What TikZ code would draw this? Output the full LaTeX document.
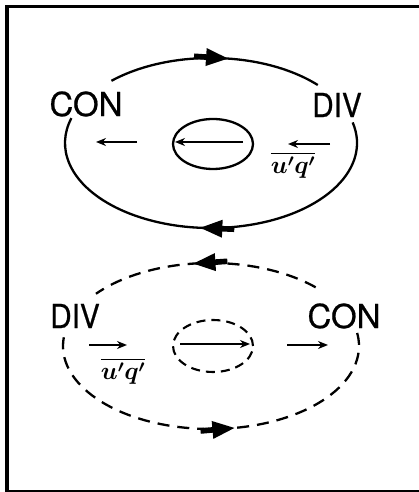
\documentclass[tikz,border=0pt]{standalone}
\usepackage{amsmath}
\usepackage{fontspec}
\newfontfamily\regionfont[FakeBold=0.6]{TeX Gyre Heros}
\usetikzlibrary{arrows.meta, decorations.markings}

\tikzset{
  loopline/.style={line width=2.3pt},
  dashloop/.style={line width=2.3pt, dash pattern=on 12pt off 8pt},
  smalldash/.style={line width=2.1pt, dash pattern=on 9pt off 6pt},
  flux/.style={line width=2.1pt, -{Stealth[length=10pt, width=8pt]}},
  % 环流中部的大箭头（含加粗的箭杆）
  midarrow/.style={postaction={decorate}, decoration={markings,
      mark=at position #1 with {
        \fill (-22pt,-9pt) -- (0pt,0pt) -- (-22pt,9pt) -- cycle;
        \fill (-34pt,-2.8pt) rectangle (-20pt,2.8pt);}}},
  region/.style={font=\regionfont\fontsize{33}{33}\selectfont, inner sep=0pt},
  fluxlbl/.style={font=\fontsize{23}{23}\selectfont\boldmath, inner sep=0pt},
}

\begin{document}
\begin{tikzpicture}[x=1pt, y=1pt]
  \useasboundingbox (0,0) rectangle (419,492);
  % === 外框 ===
  \draw[line width=4pt] (7,0) -- (7,485.5);
  \draw[line width=3pt] (5,485.5) -- (419,485.5);
  \draw[line width=1.5pt] (7,1) -- (419,1);

  % === 上图：实线环流 ===
  \begin{scope}[shift={(211,349)}]
    \draw[loopline, midarrow=0.56] (133:146 and 85) arc[start angle=133, end angle=43, x radius=146, y radius=85];
    \draw[loopline, midarrow=0.52] (14:146 and 85) arc[start angle=14, end angle=-197, x radius=146, y radius=85];
    \draw[loopline] (2,-1) ellipse[x radius=40, y radius=25];

    \node[region] (conA) at (-125,39) {CON};
    \node[region, xscale=0.9] (divA) at (126,38) {DIV};

    \coordinate (a1) at (-74,1);   \coordinate (a2) at (-115,1);
    \coordinate (a3) at (32,1);    \coordinate (a4) at (-36,1);
    \coordinate (a5) at (119,-1);  \coordinate (a6) at (77,-1);
    \draw[flux] (a1) -- (a2);
    \draw[flux] (a3) -- (a4);
    \draw[flux] (a5) -- (a6);
    \node[fluxlbl] (uqA) at (82,-22) {$\overline{u'q'}$};
  \end{scope}

  % === 下图：虚线环流 ===
  \begin{scope}[shift={(211,146)}]
    \draw[dashloop, midarrow=0.55] (45:148 and 83) arc[start angle=45, end angle=141, x radius=148, y radius=83];
    \draw[dashloop, midarrow=0.55] (174:148 and 83) arc[start angle=174, end angle=371, x radius=148, y radius=83];
    \draw[smalldash] (2,0) ellipse[x radius=40, y radius=26];

    \node[region, xscale=0.9] (divB) at (-136,30) {DIV};
    \node[region] (conB) at (133,30) {CON};

    \coordinate (b1) at (-122,1);  \coordinate (b2) at (-84,1);
    \coordinate (b3) at (-31,2);   \coordinate (b4) at (39,2);
    \coordinate (b5) at (76,1);    \coordinate (b6) at (117,1);
    \draw[flux] (b1) -- (b2);
    \draw[flux] (b3) -- (b4);
    \draw[flux] (b5) -- (b6);
    \node[fluxlbl] (uqB) at (-88,-25) {$\overline{u'q'}$};
  \end{scope}
\end{tikzpicture}
\end{document}
